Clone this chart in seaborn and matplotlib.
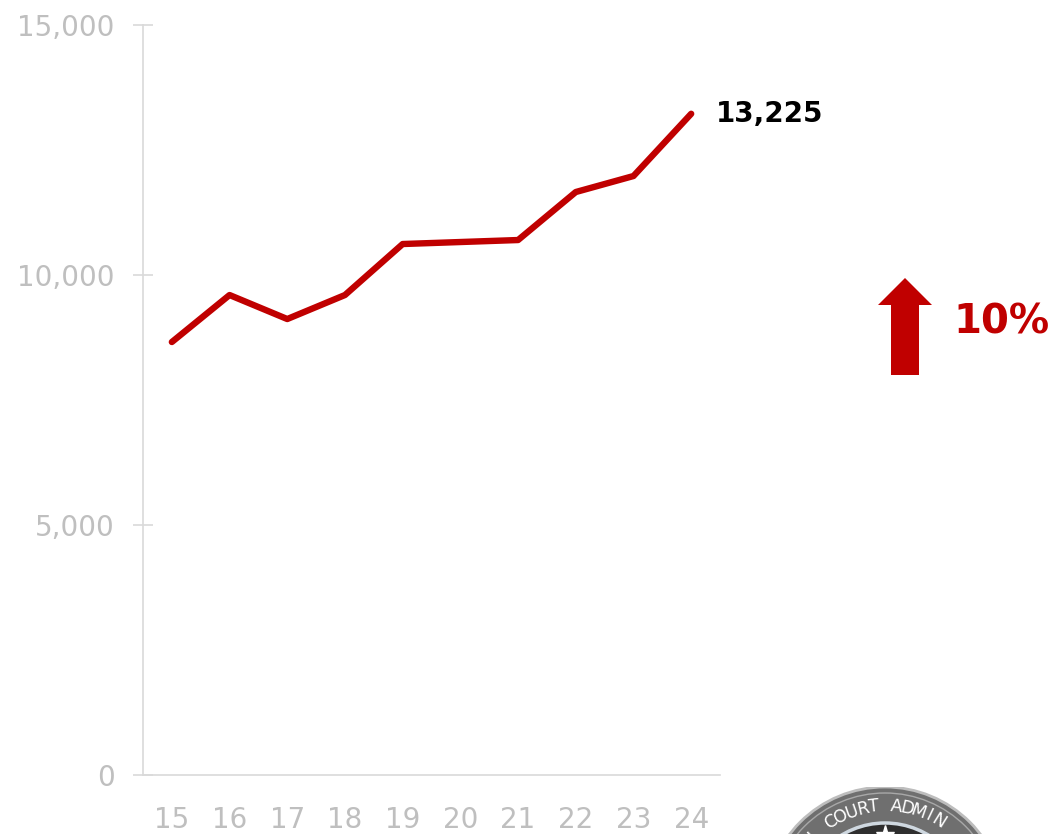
import numpy as np
import pandas as pd
import seaborn as sns
import matplotlib
matplotlib.use("Agg")
from matplotlib import pyplot as plt
from matplotlib.patches import Polygon, Circle
from matplotlib.ticker import FuncFormatter

# fiscal years and values
years = [15, 16, 17, 18, 19, 20, 21, 22, 23, 24]
values = [8660, 9600, 9120, 9600, 10620, 10660, 10700, 11660, 11980, 13225]
y_ticks = [0, 5000, 10000, 15000]
last_label = "13,225"
change_label = "10%"

RED = "#C00000"
GREY_TXT = "#BFBFBF"
GREY_LINE = "#D9D9D9"

df = pd.DataFrame({"year": years, "value": values})

sns.set_style("white")
plt.rcParams["font.family"] = ["DejaVu Sans"]

fig = plt.figure(figsize=(10.53, 8.34), dpi=100)
ax = fig.add_axes([0.1358, 0.0707, 0.548, 0.8993])

sns.lineplot(data=df, x="year", y="value", ax=ax, color=RED, linewidth=4.6,
             solid_capstyle="round", solid_joinstyle="round")

ax.set_xlim(years[0] - 0.5, years[-1] + 0.5)
ax.set_ylim(0, 15000)
ax.set_xticks(years)
ax.set_xticklabels([str(y) for y in years])
ax.set_yticks(y_ticks)
ax.yaxis.set_major_formatter(FuncFormatter(lambda v, p: f"{int(v):,}"))
ax.set_xlabel("")
ax.set_ylabel("")

for s in ["top", "right"]:
    ax.spines[s].set_visible(False)
for s in ["left", "bottom"]:
    ax.spines[s].set_color(GREY_LINE)
    ax.spines[s].set_linewidth(1.2)

ax.tick_params(axis="y", left=True, direction="inout", length=15, width=1.2,
               color=GREY_LINE, labelsize=20, labelcolor=GREY_TXT, pad=13)
ax.tick_params(axis="x", bottom=False, length=0, labelsize=20,
               labelcolor=GREY_TXT, pad=22)

# end label
ax.annotate(last_label, xy=(years[-1], values[-1]), xytext=(18, 0),
            textcoords="offset points", ha="left", va="center",
            fontsize=20, fontweight="bold", color="black", annotation_clip=False)

# up arrow and percentage change
W, H = 1053.0, 834.0
arrow_px = [(891, 375), (919, 375), (919, 305), (932, 305), (905, 278),
            (878, 305), (891, 305)]
arrow = Polygon([(x / W, 1 - y / H) for x, y in arrow_px], closed=True,
                facecolor=RED, edgecolor="none", transform=fig.transFigure)
fig.patches.append(arrow)
fig.text(953 / W, 1 - 322 / H, change_label, ha="left", va="center",
         fontsize=29, fontweight="bold", color=RED)

# seal (cut off at the bottom edge)
cx, cy, r = 885 / W, 1 - 907 / H, 120
seal = fig.add_axes([cx - r / W, cy - r / H, 2 * r / W, 2 * r / H])
seal.set_xlim(-1, 1)
seal.set_ylim(-1, 1)
seal.set_aspect("equal")
seal.axis("off")
seal.add_patch(Circle((0, 0), 1.0, facecolor="#6F6F6F", edgecolor="#BDBDBD", lw=2))
seal.add_patch(Circle((0, 0), 0.95, facecolor="none", edgecolor="#A8A8A8", lw=1.0))
seal.add_patch(Circle((0, 0), 0.70, facecolor="#2E2E2E", edgecolor="#CFD8E0", lw=2.5))
seal_text = "L COURT ADMIN"
step = 6.4
centre_idx = seal_text.index(" ADM")
for i, ch in enumerate(seal_text):
    ang = 90 + (centre_idx - i) * step
    a = np.deg2rad(ang)
    seal.text(0.84 * np.cos(a), 0.84 * np.sin(a), ch, rotation=ang - 90,
              ha="center", va="center", fontsize=12.5, color="white",
              rotation_mode="anchor")
seal.plot([0], [0.6], marker="*", markersize=14, color="white")

fig.savefig("out.png", dpi=100)
